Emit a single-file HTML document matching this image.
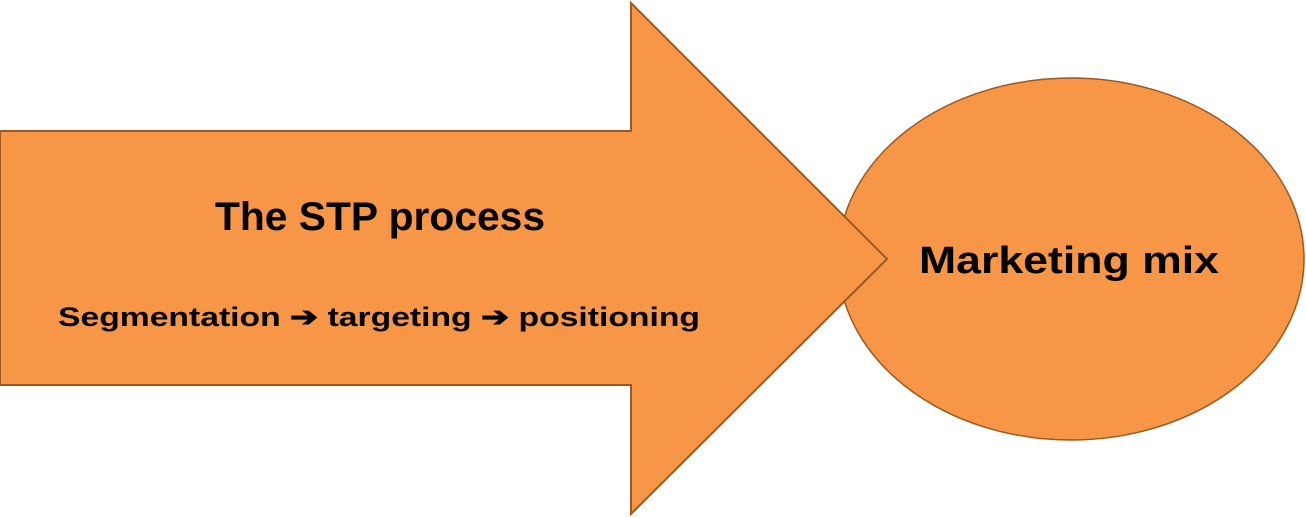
<!DOCTYPE html>
<html><head><style>html,body{margin:0;padding:0;background:#fff;width:1306px;height:518px;overflow:hidden}</style></head>
<body>
<svg width="1306" height="518" viewBox="0 0 1306 518" xmlns="http://www.w3.org/2000/svg">
<ellipse cx="1071" cy="259" rx="233" ry="181" fill="#F79646" stroke="#9A5A22" stroke-width="1.5"/>
<polygon points="0,131 631,131 631,3 887,259 631,514 631,385 0,385" fill="#F79646" stroke="#9A5A22" stroke-width="2"/>
<g font-family="Liberation Sans, sans-serif" font-weight="bold" fill="#000">
<text x="215" y="230" font-size="40" textLength="330" lengthAdjust="spacingAndGlyphs">The STP process</text>
<text x="58" y="326" font-size="27" textLength="642" lengthAdjust="spacingAndGlyphs">Segmentation ➔ targeting ➔ positioning</text>
<text x="919" y="273" font-size="38" textLength="300" lengthAdjust="spacingAndGlyphs">Marketing mix</text>
</g>
</svg>
</body></html>
